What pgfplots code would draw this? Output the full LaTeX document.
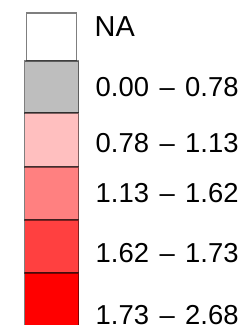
\documentclass[border=0pt]{standalone}
\usepackage{pgfplots}
\pgfplotsset{compat=1.18}
\usepackage{fontspec}
\setmainfont{Liberation Sans}
\definecolor{cNA}{HTML}{FFFFFF}
\definecolor{cA}{HTML}{BEBEBE}
\definecolor{cB}{HTML}{FFBFBF}
\definecolor{cC}{HTML}{FF8080}
\definecolor{cD}{HTML}{FF4040}
\definecolor{cE}{HTML}{FF0000}
\tikzset{lbl/.style={anchor=base west, inner sep=0pt, font=\fontsize{27.5}{28}\selectfont}}
\newcommand{\rng}[2]{#1\hspace{10.5bp}–\hspace{10.5bp}#2}
\begin{document}
\begin{tikzpicture}
\begin{axis}[scale only axis, width=248bp, height=325bp,
  xmin=0, xmax=248, ymin=0, ymax=325, y dir=reverse,
  hide axis, clip=true,
  every axis plot/.append style={draw=black, draw opacity=0.5, line width=1.6bp}]
\addplot[fill=cNA] coordinates {(26.5,13) (76.5,13) (76.5,61) (26.5,61)} -- cycle;
\addplot[fill=cA] coordinates {(24.5,61) (78.5,61) (78.5,113) (24.5,113)} -- cycle;
\addplot[fill=cB] coordinates {(24.5,113) (78.5,113) (78.5,167) (24.5,167)} -- cycle;
\addplot[fill=cC] coordinates {(24.5,167) (78.5,167) (78.5,220) (24.5,220)} -- cycle;
\addplot[fill=cD] coordinates {(24.5,220) (78.5,220) (78.5,273) (24.5,273)} -- cycle;
\addplot[fill=cE] coordinates {(24.5,273) (78.5,273) (78.5,330) (24.5,330)} -- cycle;
\node[lbl, font=\fontsize{29}{30}\selectfont] at (axis cs:94.5,36.5) {NA};
\node[lbl] at (axis cs:95.5,96.5) {\rng{0.00}{0.78}};
\node[lbl] at (axis cs:95.5,152) {\rng{0.78}{1.13}};
\node[lbl] at (axis cs:95.5,202) {\rng{1.13}{1.62}};
\node[lbl] at (axis cs:95.5,262) {\rng{1.62}{1.73}};
\node[lbl] at (axis cs:95.5,324) {\rng{1.73}{2.68}};
\end{axis}
\pgfresetboundingbox
\path[use as bounding box] (current axis.south west) rectangle (current axis.north east);
\end{tikzpicture}
\end{document}
